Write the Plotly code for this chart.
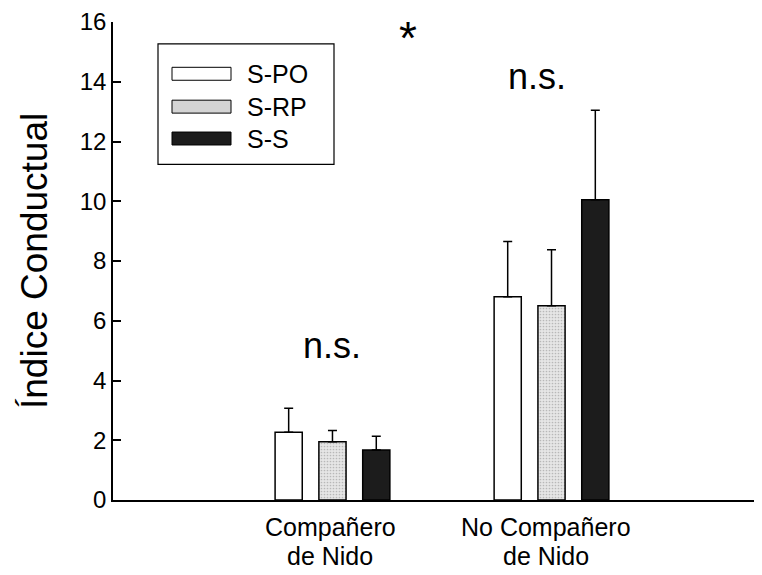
import plotly.graph_objects as go

categories = ["Compañero de Nido", "No Compañero de Nido"]
cat_lines = [["Compañero", "de Nido"], ["No Compañero", "de Nido"]]
series = ["S-PO", "S-RP", "S-S"]
means = {
    "S-PO": [2.27, 6.8],
    "S-RP": [1.95, 6.5],
    "S-S": [1.67, 10.05],
}
errors = {
    "S-PO": [0.8, 1.85],
    "S-RP": [0.38, 1.88],
    "S-S": [0.46, 3.0],
}
y_ticks = [0, 2, 4, 6, 8, 10, 12, 14, 16]

FONT = "Liberation Sans, Arial, sans-serif"

styles = {
    "S-PO": dict(color="white", pattern=None),
    "S-RP": dict(color="#d9d9d9", pattern=dict(shape=".", fgcolor="#8a8a8a", bgcolor="#e6e6e6", size=3, solidity=0.25)),
    "S-S": dict(color="#1c1c1c", pattern=None),
}

fig = go.Figure()
for s in series:
    marker = dict(color=styles[s]["color"], line=dict(color="black", width=1.5))
    if styles[s]["pattern"]:
        marker["pattern"] = styles[s]["pattern"]
    fig.add_trace(go.Bar(
        name=s, x=categories, y=means[s], marker=marker,
        error_y=dict(type="data", array=errors[s], arrayminus=[0, 0], symmetric=False,
                     color="black", thickness=1.5, width=4.5),
        showlegend=False,
    ))

# page body has an 8px margin, so the figure is sized to end at the window edge
fig.update_layout(
    width=754, height=567,
    margin=dict(l=105, r=0, t=12, b=75),
    plot_bgcolor="white", paper_bgcolor="white",
    barmode="group", bargap=0.40, bargroupgap=0.38,
    font=dict(family=FONT, color="black"),
    showlegend=False,
)
fig.update_xaxes(
    range=[-1.002, 1.961], showline=True, linecolor="black", linewidth=1.5,
    showticklabels=False, ticks="", showgrid=False, zeroline=False,
)
fig.update_yaxes(
    range=[0, 16], tickvals=y_ticks, ticktext=[str(v) for v in y_ticks],
    showline=True, linecolor="black", linewidth=1.5,
    ticks="inside", ticklen=8, tickwidth=1.5, tickcolor="black",
    tickfont=dict(size=24, family=FONT), showgrid=False, zeroline=False,
    ticklabeloverflow="allow",
)

# y-axis title
fig.add_annotation(text="Índice Conductual", textangle=-90, xref="paper", yref="paper",
                   x=0, y=0.5, xanchor="center", yanchor="middle", xshift=-79,
                   showarrow=False, font=dict(size=37, family=FONT))

# category labels
label_x = [-0.01, 0.975]
for i, lines in enumerate(cat_lines):
    for j, line in enumerate(lines):
        fig.add_annotation(text=line, xref="x", yref="paper", x=label_x[i], y=0,
                           xanchor="center", yanchor="middle", yshift=-27 - 29 * j,
                           showarrow=False, font=dict(size=25, family=FONT))

# significance marks
fig.add_annotation(text="n.s.", x=0.0, y=5.17, xref="x", yref="y", showarrow=False,
                   xanchor="center", font=dict(size=36, family=FONT))
fig.add_annotation(text="n.s.", x=0.934, y=14.17, xref="x", yref="y", showarrow=False,
                   xanchor="center", font=dict(size=36, family=FONT))
fig.add_annotation(text="*", x=0.345, y=15.45, xref="x", yref="y", showarrow=False,
                   xanchor="center", font=dict(size=46, family=FONT))

# manual legend (screen pixel positions converted to paper coords)
L, PW, B, PH = 113, 649, 500, 480
def pxx(sx):
    return (sx - L) / PW
def pyy(sy):
    return (B - sy) / PH

fig.add_shape(type="rect", xref="paper", yref="paper",
              x0=pxx(158), x1=pxx(334), y0=pyy(163), y1=pyy(42),
              line=dict(color="black", width=1.2), fillcolor="white", layer="above")
legend_fill = {"S-PO": "white", "S-RP": "#d4d4d4", "S-S": "#1c1c1c"}
row_y = [72, 105, 137]
for s, yc in zip(series, row_y):
    fig.add_shape(type="rect", xref="paper", yref="paper",
                  x0=pxx(172), x1=pxx(231), y0=pyy(yc + 6.5), y1=pyy(yc - 6.5),
                  line=dict(color="black", width=1), fillcolor=legend_fill[s], layer="above")
    fig.add_annotation(text=s, xref="paper", yref="paper",
                       x=pxx(245), y=pyy(yc),
                       xanchor="left", yanchor="middle", showarrow=False,
                       font=dict(size=25, family=FONT))

fig.write_html("out.html")
